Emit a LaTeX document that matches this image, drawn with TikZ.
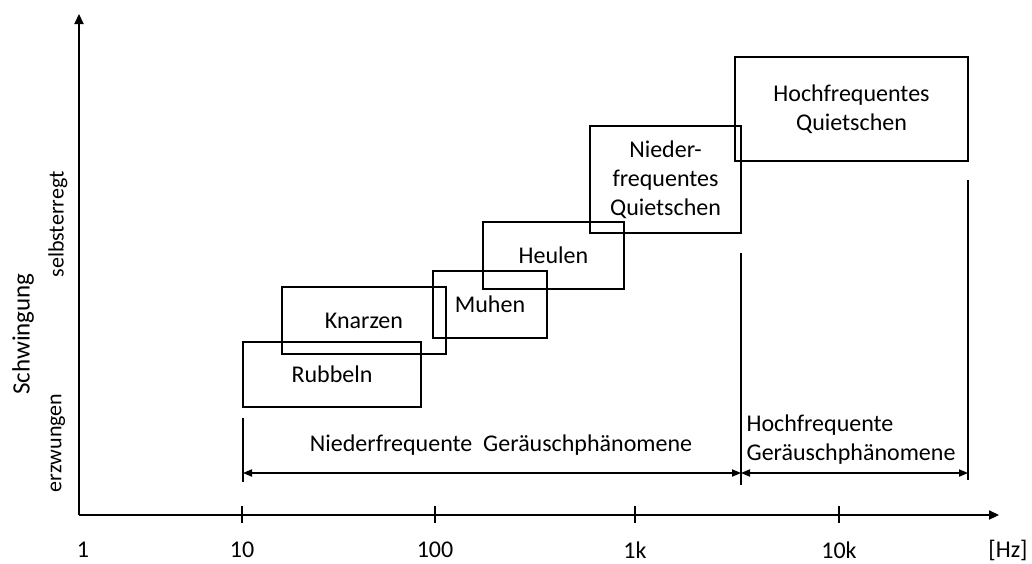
\documentclass[tikz,border=0pt]{standalone}
\usepackage{fontspec}
\setmainfont{Carlito}
\usetikzlibrary{arrows.meta}
\begin{document}
\begin{tikzpicture}[x=0.5pt,y=-0.5pt,line width=0.6pt,
  box/.style={draw, line width=0.6pt, inner sep=0pt, align=center, font=\fontsize{12}{14.5}\selectfont},
  lbl/.style={font=\fontsize{12}{14.5}\selectfont, inner sep=0pt},
  side/.style={font=\fontsize{11}{13}\selectfont, inner sep=0pt, rotate=90},
  axistip/.style={-{Triangle[length=5pt,width=4.6pt]}},
  dimtip/.style={{Triangle[length=4.5pt,width=3.6pt]}-{Triangle[length=4.5pt,width=3.6pt]}}
]
\useasboundingbox (0,0) rectangle (1032,563);

% axes
\coordinate (O) at (79,515);
\coordinate (Ytop) at (79,14);
\coordinate (Xend) at (999,515);
\draw[axistip] (O) -- (Ytop);
\draw[axistip] (O) -- (Xend);

% ticks
\foreach \n/\x in {t10/242,t100/435,t1k/635,t10k/839}{
  \coordinate (\n a) at (\x,506);
  \coordinate (\n b) at (\x,523);
  \draw (\n a) -- (\n b);
}

% tick labels
\node[lbl] (l1) at (83,550) {1};
\node[lbl] (l10) at (242,550) {10};
\node[lbl] (l100) at (435,550) {100};
\node[lbl] (l1k) at (635,550) {1k};
\node[lbl] (l10k) at (839,550) {10k};
\node[lbl] (lhz) at (1008,550) {[Hz]};

% y-axis labels
\node[lbl, font=\fontsize{12.5}{15}\selectfont, rotate=90] (schw) at (23,334) {Schwingung};
\node[side] (selbst) at (58,224.5) {selbsterregt};
\node[side] (erzw) at (58,443) {erzwungen};

% boxes
\node[box, minimum width=89pt, minimum height=32.5pt] (rub) at (332,374.5) {Rubbeln};
\node[box, minimum width=82pt, minimum height=33.5pt] (kna) at (364,320.5) {Knarzen};
\node[box, minimum width=57pt, minimum height=33.5pt] (muh) at (490,304.5) {Muhen};
\node[box, minimum width=70.5pt, minimum height=33.5pt] (heu) at (553.5,255.5) {Heulen};
\node[box, minimum width=75.5pt, minimum height=53.5pt] (nq) at (665.5,179.5) {Nieder-\\frequentes\\Quietschen};
\node[box, minimum width=116.5pt, minimum height=52pt] (hq) at (851.5,109) {Hochfrequentes\\Quietschen};

% range markers
\coordinate (v1a) at (243,418); \coordinate (v1b) at (243,482);
\coordinate (v2a) at (741,253); \coordinate (v2b) at (741,485);
\coordinate (v3a) at (968,180); \coordinate (v3b) at (968,480);
\draw (v1a) -- (v1b);
\draw (v2a) -- (v2b);
\draw (v3a) -- (v3b);
\coordinate (d1) at (243,473);
\coordinate (d2) at (741,473);
\coordinate (d3) at (968,473);
\draw[dimtip] (d1) -- (d2);
\draw[dimtip] (d2) -- (d3);

\node[lbl] (nf) at (501,445) {Niederfrequente~~Geräuschphänomene};
\node[lbl, align=left, anchor=west] (hf) at (746,440) {Hochfrequente\\Geräuschphänomene};
\end{tikzpicture}
\end{document}
